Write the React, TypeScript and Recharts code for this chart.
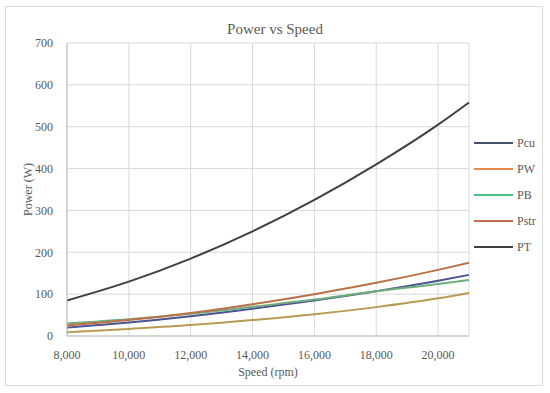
import React from "react"
import { LineChart, Line, XAxis, YAxis, CartesianGrid, Label } from "recharts"

const speeds = [8000, 10000, 12000, 14000, 16000, 18000, 20000, 21000]
const pcu = [20, 32, 47, 65, 85, 107, 132, 146]
const pw = [9, 17, 26, 38, 52, 69, 90, 103]
const pb = [30, 40, 53, 70, 87, 107, 124, 134]
const pstr = [25, 38, 55, 76, 100, 127, 158, 175]
const pt = [85, 130, 185, 250, 325, 410, 505, 558]

const xTicks = [8000, 10000, 12000, 14000, 16000, 18000, 20000]
const yTicks = [0, 100, 200, 300, 400, 500, 600, 700]

const series = [
  { key: "Pcu", line: "#4b5491", legend: "#44546a" },
  { key: "PW", line: "#b89a52", legend: "#e8884e" },
  { key: "PB", line: "#6fae7a", legend: "#44c47e" },
  { key: "Pstr", line: "#bb7048", legend: "#c0704a" },
  { key: "PT", line: "#404040", legend: "#404040" },
]

const data = speeds.map((s, i) => ({
  speed: s,
  Pcu: pcu[i],
  PW: pw[i],
  PB: pb[i],
  Pstr: pstr[i],
  PT: pt[i],
}))

const font = "'Liberation Serif', serif"

function LegendBox() {
  return (
    <svg width={70} height={135} style={{ position: "absolute", left: 474, top: 133 }}>
      {series.map((s, i) => (
        <g key={s.key}>
          <line x1={0} x2={39} y1={10 + i * 26} y2={10 + i * 26} stroke={s.legend} strokeWidth={2} />
          <text x={43} y={14 + i * 26} fontSize={12} fill="#595959" fontFamily={font}>
            {s.key}
          </text>
        </g>
      ))}
    </svg>
  )
}

export default function App() {
  return (
    <div style={{ position: "absolute", left: 0, top: 0, width: 550, height: 393, background: "#fff" }}>
      <div
        style={{
          position: "absolute",
          left: 5,
          top: 6,
          width: 536,
          height: 378,
          border: "1px solid #d9d9d9",
        }}
      />
      <div
        style={{
          position: "absolute",
          left: 0,
          width: 550,
          top: 21,
          textAlign: "center",
          fontFamily: font,
          fontSize: 15,
          color: "#595959",
        }}
      >
        Power vs Speed
      </div>
      <LineChart width={550} height={393} data={data} margin={{ top: 43, right: 81, bottom: 0, left: 20 }}>
        <CartesianGrid stroke="#d9d9d9" strokeWidth={1} />
        <XAxis
          dataKey="speed"
          type="number"
          domain={[8000, 21000]}
          ticks={xTicks}
          tickFormatter={(v: number) => v.toLocaleString("en-US")}
          tickLine={false}
          axisLine={{ stroke: "#bfbfbf" }}
          tick={{ fontSize: 12, fill: "#595959", fontFamily: font }}
          tickMargin={8}
          height={57}
        >
          <Label value="Speed (rpm)" position="insideBottom" offset={17} style={{ fontSize: 12, fill: "#595959", fontFamily: font }} />
        </XAxis>
        <YAxis
          type="number"
          domain={[0, 700]}
          ticks={yTicks}
          tickLine={false}
          axisLine={{ stroke: "#bfbfbf" }}
          tick={{ fontSize: 12, fill: "#595959", fontFamily: font }}
          tickMargin={8}
          width={47}
        >
          <Label
            value="Power (W)"
            angle={-90}
            position="insideLeft"
            offset={8}
            style={{ textAnchor: "middle", fontSize: 12, fill: "#595959", fontFamily: font }}
          />
        </YAxis>
        {series.map((s) => (
          <Line
            key={s.key}
            type="monotone"
            dataKey={s.key}
            stroke={s.line}
            strokeWidth={2}
            dot={false}
            isAnimationActive={false}
          />
        ))}
      </LineChart>
      <LegendBox />
    </div>
  )
}
